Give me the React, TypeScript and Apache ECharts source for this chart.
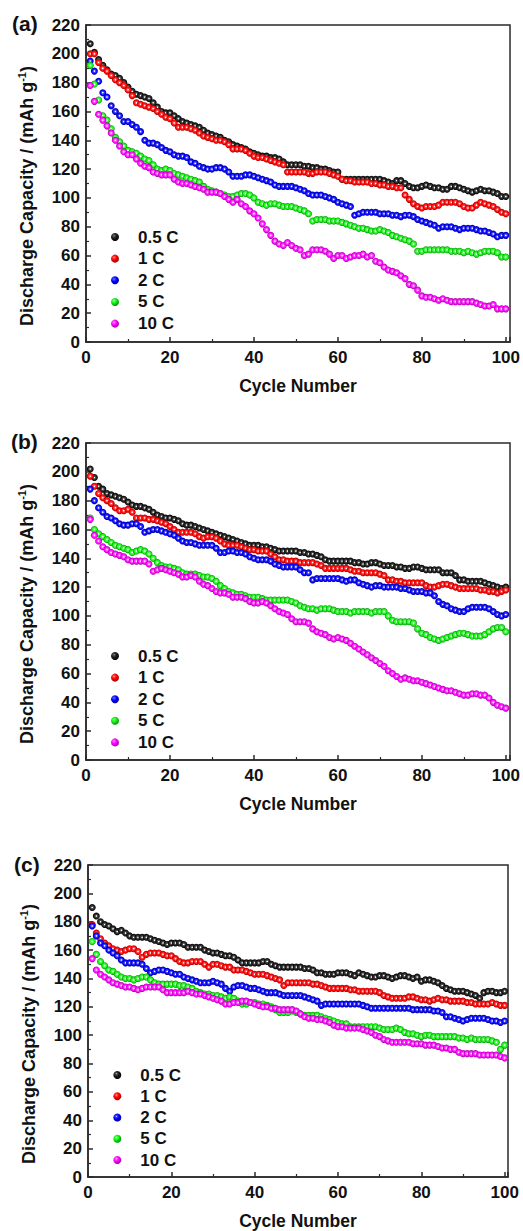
import React, { useEffect, useRef } from 'react';
import * as echarts from 'echarts';

// ---------- data ----------
const cycles: number[] = Array.from({ length: 100 }, (_, i) => i + 1);
const rateNames = ['0.5 C', '1 C', '2 C', '5 C', '10 C'];
const panelLabels = ['(a)', '(b)', '(c)'];
const xTickStep = 20;
const yTickStep = 20;
const yMax = 220;

// Panel (a)
const A_05 = [207,201,196,192,189,186,185,183,180,177, 174,172,171,170,169,166,163,160,159,159, 157,155,153,152,151,150,149,147,145,144, 143,142,140,139,137,136,135,134,132,131, 130,129,129,128,128,127,125,123,123,123, 123,122,122,121,121,120,120,119,118,118, 113,113,113,113,113,113,113,113,113,113, 112,111,110,112,112,110,108,107,107,108, 109,108,107,107,106,106,108,108,107,106, 105,104,105,106,105,105,104,103,101,101];
const A_1 = [200,200,194,190,188,185,182,180,178,175, 171,166,165,164,163,162,160,158,156,155, 152,149,149,149,148,147,145,143,142,141, 140,140,139,137,134,134,134,133,131,129, 128,128,127,126,125,124,123,118,118,118, 118,118,117,117,118,118,118,117,116,115, 113,112,112,111,111,111,111,110,110,109, 109,108,108,107,107,102,99,96,94,93, 94,94,94,95,97,97,97,97,96,94, 93,93,95,97,96,95,94,92,90,89];
const A_2 = [195,188,181,173,170,164,160,157,153,153, 151,149,146,140,138,138,137,135,133,132, 130,129,129,128,125,124,122,121,120,120, 121,121,120,118,115,115,115,116,116,115, 114,113,112,111,109,108,108,108,108,107, 106,105,103,102,102,102,101,100,99,97, 96,95,94,88,89,90,90,90,90,89, 89,89,88,88,87,88,88,87,85,84, 83,82,81,79,80,80,80,79,78,79, 79,79,78,77,77,76,75,73,74,74];
const A_5 = [192,179,168,157,154,148,142,139,136,133, 132,131,129,127,126,123,120,119,120,119, 117,116,115,114,113,112,111,108,106,105, 104,103,102,101,101,102,103,103,102,100, 97,96,95,96,96,95,94,94,94,93, 92,91,89,84,85,85,85,84,84,84, 83,82,81,80,79,79,78,77,77,78, 77,76,74,73,72,71,70,68,63,63, 64,64,64,64,64,64,63,63,63,62, 63,62,61,62,63,63,63,62,59,59];
const A_10 = [178,167,158,154,150,145,140,136,132,130, 130,127,124,122,121,118,117,116,116,116, 113,111,110,110,109,108,107,106,104,104, 104,103,101,99,97,99,96,94,91,89, 86,82,78,74,70,68,67,69,67,65, 64,60,61,64,64,64,63,61,58,60, 60,58,59,60,60,61,59,60,56,55, 52,50,49,48,46,44,40,39,36,32, 31,31,30,29,30,29,28,28,28,28, 28,28,27,26,25,25,26,23,23,23];

// Panel (b)
const B_05 = [202,196,190,188,185,184,183,182,181,179, 177,176,176,175,174,172,170,169,168,168, 167,166,164,163,163,162,161,160,159,158, 157,156,155,154,153,152,151,150,149,149, 149,148,148,147,146,145,145,145,145,145, 144,144,143,143,142,141,139,138,138,138, 138,138,138,137,137,136,136,137,137,136, 135,135,135,134,134,133,133,134,134,133, 132,132,132,132,130,130,130,128,125,125, 124,124,124,124,123,122,121,120,119,120];
const B_1 = [197,190,185,182,180,178,175,173,173,174, 172,168,168,168,167,167,166,165,164,162, 160,158,158,158,158,157,155,154,155,155, 154,152,150,149,149,149,148,147,146,146, 145,145,145,143,141,139,139,138,138,138, 137,137,137,137,136,135,133,133,133,133, 133,133,132,131,131,130,130,130,130,129, 128,125,125,124,124,123,123,123,123,123, 121,120,120,121,122,122,121,120,119,119, 119,119,119,118,118,117,117,116,117,118];
const B_2 = [188,180,175,172,169,168,166,164,163,163, 164,164,162,158,159,160,160,159,158,157, 156,154,152,151,151,150,149,149,149,149, 147,144,144,145,145,144,144,143,141,140, 139,139,139,138,136,135,134,134,134,134, 132,130,130,125,126,126,126,126,126,126, 125,124,125,125,123,122,121,120,121,121, 120,120,120,120,119,119,118,117,117,117, 116,116,114,110,108,107,105,104,103,103, 105,106,106,106,106,105,103,101,100,101];
const B_5 = [168,160,157,155,153,151,149,148,147,146, 144,145,146,145,143,140,137,135,134,134, 133,132,130,129,129,129,128,127,127,126, 124,121,119,117,116,115,115,114,113,113, 113,112,111,111,111,111,111,111,110,109, 107,106,105,105,104,105,105,105,104,103, 103,103,102,103,103,103,103,102,103,103, 103,100,97,96,96,96,96,95,91,88, 87,85,84,83,84,85,86,87,88,88, 87,86,86,86,87,89,91,92,92,89];
const B_10 = [167,156,152,148,146,144,143,142,141,139, 138,138,138,138,136,131,132,133,132,131, 130,129,127,127,128,127,124,122,121,119, 117,116,116,115,113,113,113,112,110,109, 109,110,109,107,105,103,102,101,98,96, 96,96,95,91,89,88,87,85,84,85, 84,83,81,79,77,75,73,71,69,67, 65,62,60,58,56,57,56,55,55,54, 53,52,51,50,49,48,48,47,46,45, 45,46,46,45,45,43,40,38,37,36];

// Panel (c)
const C_05 = [190,184,180,178,177,175,173,174,172,170, 169,169,169,169,168,167,166,165,164,165, 165,165,164,162,162,162,162,160,159,158, 158,157,156,156,155,153,151,151,151,151, 151,152,152,150,149,148,148,148,148,148, 148,147,147,146,144,144,143,143,143,144, 144,144,143,142,144,143,142,141,141,142, 142,141,140,141,142,142,141,140,141,138, 139,139,138,137,135,133,132,131,131,131, 130,129,128,126,130,131,131,130,130,131];
const C_1 = [178,172,168,165,163,161,160,159,160,161, 161,159,155,157,158,158,158,157,156,156, 154,152,151,151,152,152,152,150,148,150, 150,149,148,148,146,146,146,145,144,143, 143,143,142,141,140,139,135,137,137,137, 137,137,137,136,136,135,134,133,133,133, 133,133,132,132,131,131,131,131,131,130, 128,127,126,126,126,126,127,127,126,125, 125,124,125,126,125,125,124,124,124,124, 123,123,122,122,122,122,123,122,121,121];
const C_2 = [177,170,165,163,160,158,156,153,151,151, 151,151,150,147,144,145,146,146,145,144, 143,143,141,140,139,138,137,137,137,138, 137,136,133,131,134,135,135,134,133,133, 132,131,130,130,130,129,128,128,128,128, 128,127,126,125,124,121,122,122,122,122, 122,122,122,122,122,121,120,119,119,119, 119,119,119,119,119,119,119,118,118,118, 118,118,117,117,116,113,113,112,111,110, 111,112,112,112,112,111,110,110,109,110];
const C_5 = [166,157,152,149,146,145,143,141,140,140, 139,140,141,141,139,137,136,136,136,136, 136,135,135,134,133,131,130,129,129,128, 128,127,126,127,126,124,122,122,123,123, 122,122,121,120,118,116,116,116,117,116, 115,114,114,114,114,113,112,111,110,109, 108,108,106,106,106,106,106,106,106,105, 104,104,104,105,104,102,101,101,100,99, 100,100,99,99,99,99,99,99,98,98, 97,98,97,97,97,97,96,95,90,93];
const C_10 = [154,146,143,141,139,137,136,135,134,134, 133,132,133,134,134,134,134,132,130,130, 130,130,130,131,130,129,129,128,127,126, 125,124,122,122,123,123,124,124,123,122, 121,120,120,119,119,118,118,118,118,117, 115,113,112,112,111,111,110,109,107,106, 106,105,105,105,105,104,103,102,100,99, 97,96,95,95,95,95,95,94,94,94, 93,93,93,92,91,91,90,90,88,87, 87,87,87,86,86,86,86,86,85,84];

const panelData = [
  [A_05, A_1, A_2, A_5, A_10],
  [B_05, B_1, B_2, B_5, B_10],
  [C_05, C_1, C_2, C_5, C_10],
];

// ---------- styling ----------
const FONT = 'Arial, "Liberation Sans", Helvetica, sans-serif';
const AXIS_COLOR = '#2a2a2a';
const TEXT_COLOR = '#111';

const sphereStops: string[][] = [
  ['#ffffff', '#555555', '#1a1a1a', '#000000'],
  ['#ffffff', '#ff5050', '#ff0000', '#a00000'],
  ['#ffffff', '#5050ff', '#0000ff', '#000090'],
  ['#ffffff', '#60ff60', '#10ee10', '#008800'],
  ['#ffffff', '#ff60ff', '#ff00ff', '#a000a0'],
];

// markers in the plot: sphere with small white highlight in the middle
const sphere = (s: string[]) =>
  new echarts.graphic.RadialGradient(0.5, 0.5, 0.5, [
    { offset: 0, color: s[0] },
    { offset: 0.1, color: s[0] },
    { offset: 0.3, color: s[1] },
    { offset: 0.72, color: s[2] },
    { offset: 1, color: s[3] },
  ]);

// legend icons: solid ball with an off-centre glint
const ball = (s: string[]) =>
  new echarts.graphic.RadialGradient(0.38, 0.35, 0.7, [
    { offset: 0, color: s[0] },
    { offset: 0.12, color: s[1] },
    { offset: 0.45, color: s[2] },
    { offset: 1, color: s[3] },
  ]);

const layouts = [
  { left: 86, top: 25, width: 425, height: 317, xMax: 101,
    legendLeft: 111, legendTop: 228.5, legendGap: 4.65,
    label: { x: 12, y: 26 }, yTitle: { x: 27, y: 196 } },
  { left: 86, top: 443, width: 426, height: 317, xMax: 101,
    legendLeft: 111, legendTop: 647.5, legendGap: 4.6,
    label: { x: 11, y: 444 }, yTitle: { x: 27, y: 614 } },
  { left: 88, top: 865, width: 420, height: 313, xMax: 100.8,
    legendLeft: 113.3, legendTop: 1066.5, legendGap: 4.25,
    label: { x: 14, y: 867 }, yTitle: { x: 29, y: 1034 } },
];

function buildOption() {
  const grid: any[] = [];
  const xAxis: any[] = [];
  const yAxis: any[] = [];
  const series: any[] = [];
  const legend: any[] = [];
  const graphic: any[] = [];

  layouts.forEach((L, gi) => {
    grid.push({
      left: L.left, top: L.top, width: L.width, height: L.height,
      show: true, borderColor: AXIS_COLOR, borderWidth: 1.5,
      backgroundColor: 'rgba(0,0,0,0)',
    });
    xAxis.push({
      type: 'value', gridIndex: gi, min: 0, max: L.xMax, interval: xTickStep,
      name: 'Cycle Number', nameLocation: 'middle', nameGap: 35,
      nameTextStyle: { fontFamily: FONT, fontSize: 17.5, fontWeight: 'bold', color: TEXT_COLOR },
      axisLine: { show: true, onZero: false, lineStyle: { color: AXIS_COLOR, width: 1.5 } },
      axisTick: { show: true, inside: true, length: 5, lineStyle: { color: AXIS_COLOR, width: 1.5 } },
      minorTick: { show: true, splitNumber: 2, length: 3, lineStyle: { color: AXIS_COLOR, width: 1.2 } },
      axisLabel: { fontFamily: FONT, fontSize: 17, fontWeight: 'bold', color: TEXT_COLOR, margin: 7, showMaxLabel: false },
      splitLine: { show: false },
      minorSplitLine: { show: false },
    });
    yAxis.push({
      type: 'value', gridIndex: gi, min: 0, max: yMax, interval: yTickStep,
      axisLine: { show: true, onZero: false, lineStyle: { color: AXIS_COLOR, width: 1.5 } },
      axisTick: { show: true, inside: true, length: 5, lineStyle: { color: AXIS_COLOR, width: 1.5 } },
      minorTick: { show: true, splitNumber: 2, length: 3, lineStyle: { color: AXIS_COLOR, width: 1.2 } },
      axisLabel: { fontFamily: FONT, fontSize: 17, fontWeight: 'bold', color: TEXT_COLOR, margin: 6 },
      splitLine: { show: false },
      minorSplitLine: { show: false },
    });
    panelData[gi].forEach((vals, si) => {
      series.push({
        type: 'scatter',
        name: rateNames[si],
        xAxisIndex: gi,
        yAxisIndex: gi,
        symbol: 'circle',
        symbolSize: 7,
        itemStyle: { color: sphere(sphereStops[si]), opacity: 1 },
        data: cycles.map((c, i) => [c, vals[i]]),
        z: 2 + si,
      });
    });
    legend.push({
      orient: 'vertical', left: L.legendLeft, top: L.legendTop, padding: 0,
      itemWidth: 8, itemHeight: 8, itemGap: L.legendGap, icon: 'circle',
      selectedMode: false,
      textStyle: { fontFamily: FONT, fontSize: 17, fontWeight: 'bold', color: TEXT_COLOR, lineHeight: 17, padding: [0, 0, 0, 14] },
      data: rateNames.map((n, si) => ({
        name: n,
        itemStyle: { color: ball(sphereStops[si]), borderWidth: 0 },
      })),
    });
    graphic.push({
      type: 'text', left: L.label.x, top: L.label.y - 13,
      style: { text: panelLabels[gi], font: `bold 21px ${FONT}`, fill: TEXT_COLOR },
    });
    graphic.push({
      type: 'text', x: L.yTitle.x, y: L.yTitle.y, rotation: Math.PI / 2,
      style: {
        text: '{m|Discharge Capacity / (mAh g}{s|-1}{m|)}',
        align: 'center', verticalAlign: 'middle', fill: TEXT_COLOR,
        rich: {
          m: { fontFamily: FONT, fontSize: 18, fontWeight: 'bold', color: TEXT_COLOR, lineHeight: 22 },
          s: { fontFamily: FONT, fontSize: 11, fontWeight: 'bold', color: TEXT_COLOR, verticalAlign: 'top', lineHeight: 12 },
        },
      },
    });
  });

  return {
    animation: false,
    backgroundColor: '#ffffff',
    grid, xAxis, yAxis, series, legend, graphic,
  };
}

export default function App() {
  const ref = useRef<HTMLDivElement>(null);
  useEffect(() => {
    if (!ref.current) return;
    const chart = echarts.init(ref.current, undefined, { renderer: 'svg' });
    chart.setOption(buildOption() as any);
    return () => chart.dispose();
  }, []);
  return (
    <div
      ref={ref}
      style={{ position: 'absolute', left: 0, top: 0, width: 523, height: 1231, background: '#fff' }}
    />
  );
}
